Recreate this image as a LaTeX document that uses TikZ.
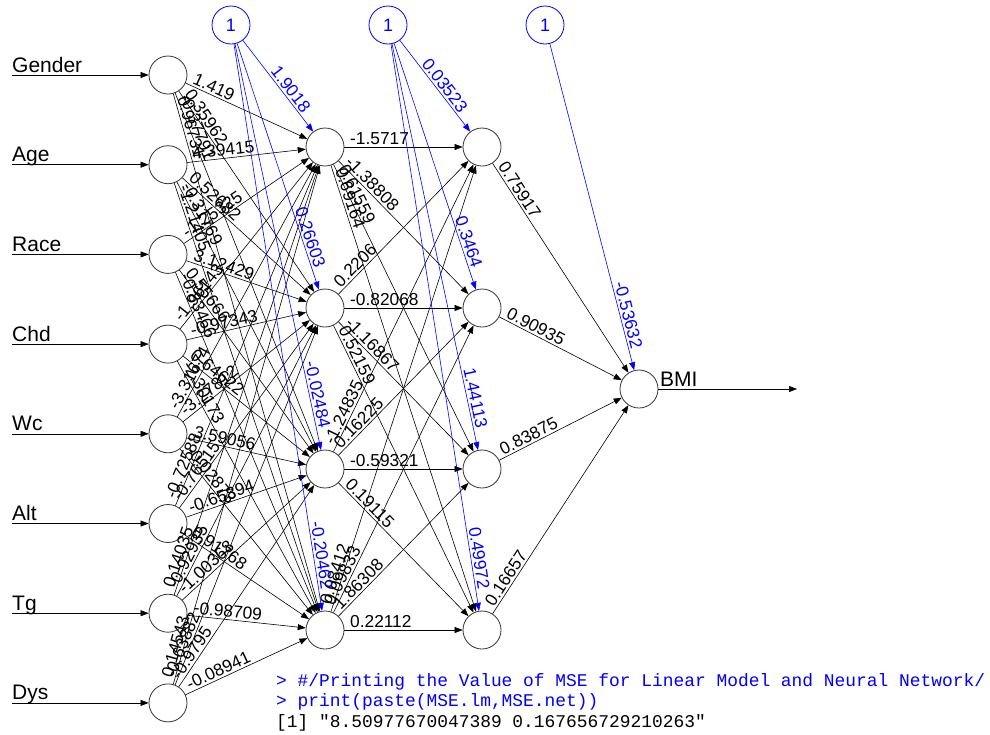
\documentclass[tikz,border=0pt]{standalone}
\usepackage{fontspec}
\setmainfont{Liberation Sans}
\newfontfamily\codefont{Liberation Mono}
\usepackage{tikz}
\usetikzlibrary{positioning}
\usetikzlibrary{calc}
\usetikzlibrary{arrows.meta}
\tikzset{neuron/.style={circle,draw=black!80,line width=0.8pt,fill=white,minimum size=38pt,inner sep=0pt},
  biasneuron/.style={neuron,draw=blue,text=blue,font=\fontsize{18}{20}\selectfont},
  syn/.style={line width=0.6pt,-{Triangle[length=8pt,width=6pt]}},
  biassyn/.style={syn,blue},
  wlab/.style={font=\fontsize{17.3}{19}\selectfont,inner sep=2pt},
  inlab/.style={font=\fontsize{21}{22}\selectfont,anchor=base west,inner sep=0pt},
  codeline/.style={font=\codefont\fontsize{17.9}{20}\selectfont,anchor=base west,inner sep=0pt}}

\begin{document}
\begin{tikzpicture}[x=1pt,y=-1pt]
\useasboundingbox (0,0) rectangle (990,734);
% inputs
\foreach \k/\name in {1/Gender,2/Age,3/Race,4/Chd,5/Wc,6/Alt,7/Tg,8/Dys}{
  \node[neuron] (i\k) at (168,{75+(\k-1)*89.7}) {};
  \node[inlab] (n\k) at (12,{72+(\k-1)*89.7}) {\name};
  \coordinate (s\k) at (12,{75+(\k-1)*89.7});
  \draw[syn] (s\k) -- (i\k);
}
% hidden layers and output
\foreach \j in {1,...,4}{
  \node[neuron] (h\j) at (325,{147+(\j-1)*161}) {};
  \node[neuron] (g\j) at (482,{147+(\j-1)*161}) {};
}
\node[neuron] (o) at (639,389) {};
\node[inlab] (nout) at (660,386) {BMI};
\coordinate (e) at (797,389);
\draw[syn] (o) -- (e);
\node[biasneuron] (b1) at (231,25) {1};
\node[biasneuron] (b2) at (388,25) {1};
\node[biasneuron] (b3) at (545,25) {1};
% input -> first hidden layer
\foreach \k/\wts in {1/{1.419,0.35962,-0.37791,0.96731},
  2/{4.39415,0.52682,-0.31769,-1.21405},
  3/{-1.25325,3.12429,0.55666,-0.83466},
  4/{-1.96143,-0.97343,0.64622,-2.30173},
  5/{-3.31674,-3.27812,3.59056,-0.02873},
  6/{-0.72588,-0.76515,-0.65894,0.91768},
  7/{0.14035,-0.92935,-1.00368,-0.98709},
  8/{0.14543,-0.63882,-0.9795,-0.08941}}{
  \foreach \w [count=\j] in \wts {
    \draw[syn] (i\k) -- (h\j);
    \path ($(i\k)!23pt!(h\j)$) -- (h\j) node[wlab,pos=0,sloped,anchor=south west] {\w};
  }
}
% first -> second hidden layer
\foreach \k/\wts in {1/{-1.5717,-1.38808,0.61559,0.69164},
  2/{0.2206,-0.82068,-1.16867,0.52159},
  3/{-1.24835,0.16225,-0.59321,0.19115},
  4/{0.08412,0.09833,1.86308,0.22112}}{
  \foreach \w [count=\j] in \wts {
    \draw[syn] (h\k) -- (g\j);
    \path ($(h\k)!23pt!(g\j)$) -- (g\j) node[wlab,pos=0,sloped,anchor=south west] {\w};
  }
}
% second hidden layer -> output
\foreach \w [count=\j] in {0.75917,0.90935,0.83875,0.16657}{
  \draw[syn] (g\j) -- (o);
  \path ($(g\j)!23pt!(o)$) -- (o) node[wlab,pos=0,sloped,anchor=south west] {\w};
}
% bias
\foreach \w [count=\j] in {1.9018,0.26603,-0.02484,-0.20462}{
  \draw[biassyn] (b1) -- (h\j);
  \path (b1) -- ($(h\j)!38pt!(b1)$) node[wlab,text=blue,pos=1,sloped,anchor=south east] {\w};
}
\foreach \w [count=\j] in {0.03523,0.3464,1.44113,0.49972}{
  \draw[biassyn] (b2) -- (g\j);
  \path (b2) -- ($(g\j)!38pt!(b2)$) node[wlab,text=blue,pos=1,sloped,anchor=south east] {\w};
}
\draw[biassyn] (b3) -- (o);
\path (b3) -- ($(o)!38pt!(b3)$) node[wlab,text=blue,pos=1,sloped,anchor=south east] {-0.53632};
% console output
\node[codeline,text=blue] (code1) at (276,686) {> \#/Printing the Value of MSE for Linear Model and Neural Network/};
\node[codeline,text=blue] (code2) at (276,706.5) {> print(paste(MSE.lm,MSE.net))};
\node[codeline] (code3) at (276,727) {[1] "8.50977670047389 0.167656729210263"};
\end{tikzpicture}
\end{document}
